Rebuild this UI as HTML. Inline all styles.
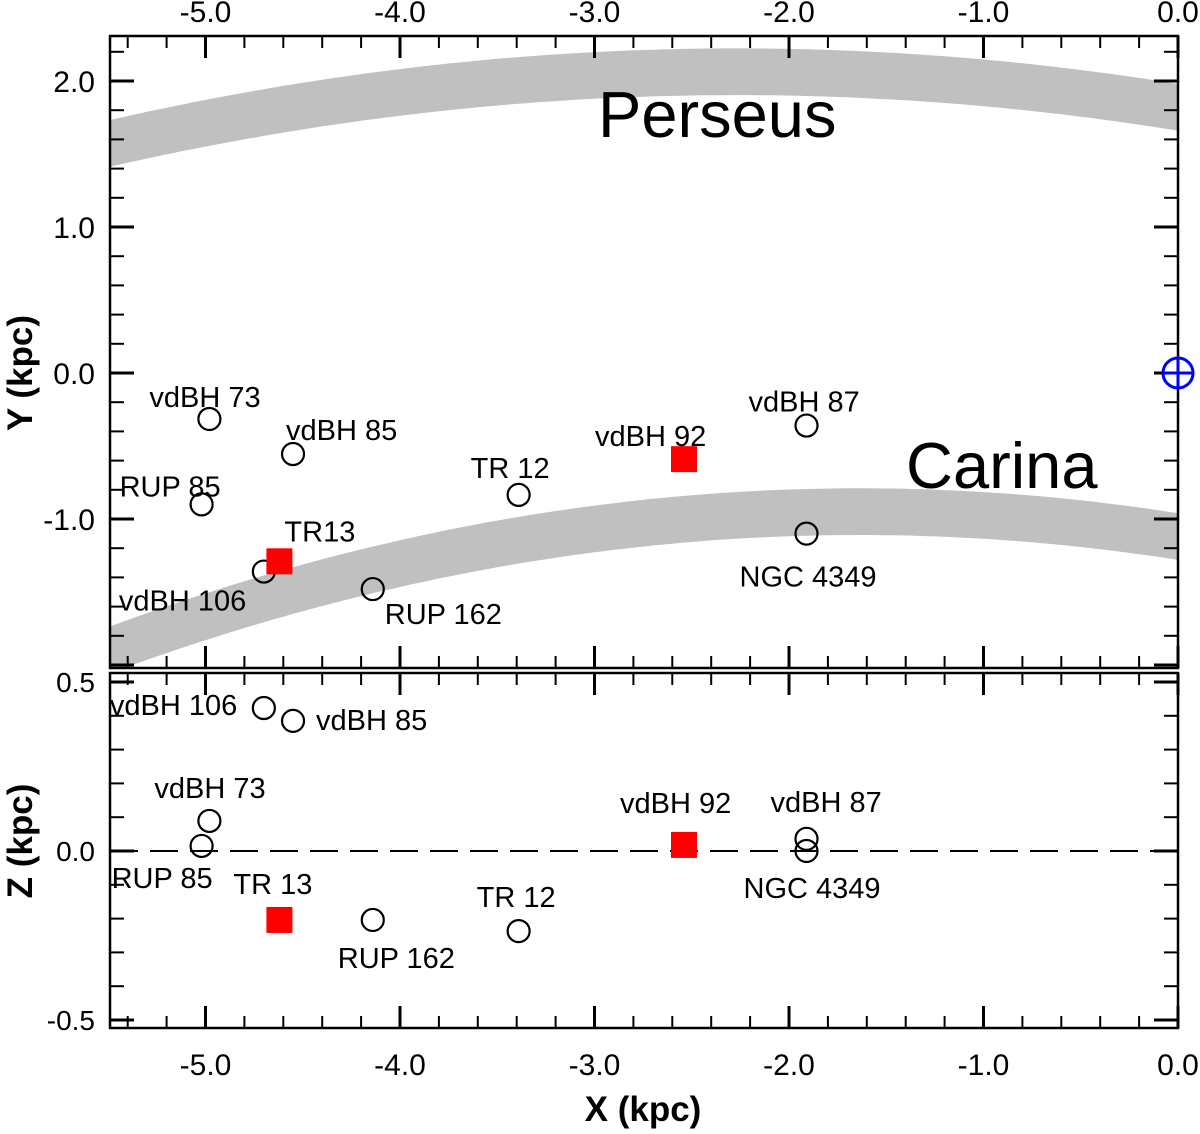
<!DOCTYPE html>
<html><head><meta charset="utf-8"><style>
html,body{margin:0;padding:0;background:#fff}
svg text{font-family:"Liberation Sans",Arial,sans-serif}
</style></head><body>
<svg width="1200" height="1129" viewBox="0 0 1200 1129" xmlns="http://www.w3.org/2000/svg">
<g id="bands"></g>
<g id="axes"></g>
<g id="marks"></g>
<text x="598" y="137" font-size="65">Perseus</text>
<text x="906" y="488" font-size="65">Carina</text>
<text x="643" y="1121" font-size="35" font-weight="bold" text-anchor="middle">X (kpc)</text>
<text transform="translate(32,373) rotate(-90)" font-size="35" font-weight="bold" text-anchor="middle">Y (kpc)</text>
<text transform="translate(32,841) rotate(-90)" font-size="35" font-weight="bold" text-anchor="middle">Z (kpc)</text>
</svg>
<script>
const names = ["vdBH 73","vdBH 85","RUP 85","vdBH 106","TR13","RUP 162","TR 12","vdBH 92","vdBH 87","NGC 4349"];
const xs = [-4.98,-4.55,-5.02,-4.70,-4.62,-4.14,-3.39,-2.54,-1.91,-1.91];
const ys = [-0.315,-0.555,-0.90,-1.36,-1.29,-1.48,-0.835,-0.59,-0.36,-1.10];
const zs = [0.089,0.385,0.015,0.423,-0.204,-0.204,-0.237,0.018,0.036,0.0];
const isRed = [0,0,0,0,1,0,0,1,0,0];
const xTicks = [-5.0,-4.0,-3.0,-2.0,-1.0,0.0];
const yTicks = [2.0,1.0,0.0,-1.0];
const zTicks = [0.5,0.0,-0.5];
const perseusPts = [[-5.5,1.57],[-2.8,2.05],[0,1.82]];
const carinaPts = [[-5.5,-1.90],[-1.7,-0.95],[0,-1.12]];
const armHalf = 0.16;

const NS="http://www.w3.org/2000/svg";
const L=110,R=1178,T1=36,B1=668,T2=673,B2=1028;
const sx=x=>1178+x*194.5;
const sy=y=>373-y*146;
const sz=z=>851-z*338;
function el(tag,attrs,parent,txt){const e=document.createElementNS(NS,tag);for(const k in attrs)e.setAttribute(k,attrs[k]);if(txt!==undefined)e.textContent=txt;parent.appendChild(e);return e;}
const axes=document.getElementById('axes'),marks=document.getElementById('marks'),bands=document.getElementById('bands');

function lag(p,x){let s=0;for(let i=0;i<3;i++){let t=p[i][1];for(let j=0;j<3;j++)if(j!==i)t*=(x-p[j][0])/(p[i][0]-p[j][0]);s+=t;}return s;}
[["perseus-arm",perseusPts],["carina-arm",carinaPts]].forEach(([nm,p])=>{
  let up=[],dn=[];
  for(let x=-5.5;x<=0.001;x+=0.05){const c=lag(p,x);up.push(sx(x).toFixed(1)+","+sy(c+armHalf).toFixed(1));dn.unshift(sx(x).toFixed(1)+","+sy(c-armHalf).toFixed(1));}
  const pg=el('polygon',{points:up.concat(dn).join(' '),fill:'#c0c0c0'},bands);
  
  
});
const cp=el('clipPath',{id:'c1'},bands);el('rect',{x:L,y:T1,width:R-L,height:B1-T1},cp);
bands.setAttribute('clip-path','url(#c1)');

[[T1,B1],[T2,B2]].forEach(([t,b],i)=>{
  const r=el('rect',{x:L,y:t,width:R-L,height:b-t,fill:'none',stroke:'#000','stroke-width':2.5},axes);
  
  
});
function line(x1,y1,x2,y2,w){el('line',{x1,y1,x2,y2,stroke:'#000','stroke-width':w||2},axes);}
for(let k=-27;k<=0;k++){const v=k/5,x=sx(v);if(x<L+1)continue;const maj=k%5===0;const len=maj?22:12;
  line(x,T1,x,T1+len,maj?3:2);line(x,B1,x,B1-len,maj?3:2);line(x,T2,x,T2+len,maj?3:2);line(x,B2,x,B2-len,maj?3:2);}
xTicks.forEach(v=>{
  const a=el('text',{x:sx(v),y:1075,'font-size':30,'text-anchor':'middle'},axes,v.toFixed(1));
  
  
  const b=el('text',{x:sx(v),y:22,'font-size':30,'text-anchor':'middle'},axes,v.toFixed(1));
  
  
});
for(let k=-10;k<=11;k++){const v=k/5,y=sy(v);if(y<T1+1||y>B1-1)continue;const maj=k%5===0;const len=maj?24:14;
  line(L,y,L+len,y,maj?3:2);line(R,y,R-len,y,maj?3:2);}
yTicks.forEach(v=>{const a=el('text',{x:95,y:sy(v)+11,'font-size':30,'text-anchor':'end'},axes,v.toFixed(1));
  });
for(let k=-5;k<=5;k++){const v=k/10,y=sz(v);if(y<T2+1||y>B2-1)continue;const maj=k%5===0;const len=maj?24:14;
  line(L,y,L+len,y,maj?3:2);line(R,y,R-len,y,maj?3:2);}
zTicks.forEach(v=>{const a=el('text',{x:95,y:sz(v)+10,'font-size':28,'text-anchor':'end'},axes,v.toFixed(1));
  });
const dl=el('line',{x1:L,y1:sz(0),x2:R,y2:sz(0),stroke:'#000','stroke-width':2,'stroke-dasharray':'28,12'},axes);



const topLab=[[-60,-12],[-7,-14],[-82,-8],[-145,39],[5,-20],[12,35],[-48,-17],[-89,-13],[-58,-14],[-67,53]];
const botLab=[[-55,-23],[23,9],[-90,42],[-154,7],[-46,-26],[-35,48],[-42,-24],[-64,-32],[-36,-27],[-63,47]];
function mark(cx,cy,red,nm){
  let m;
  if(red){m=el('rect',{x:cx-13,y:cy-13,width:26,height:26,fill:'#f00'},marks);}
  else{m=el('circle',{cx,cy,r:11,fill:'none',stroke:'#000','stroke-width':2.2},marks);}
  
  
}
names.forEach((n,i)=>{
  const cx=sx(xs[i]),cy=sy(ys[i]);
  mark(cx,cy,isRed[i],'cluster-xy-point');
  const t=el('text',{x:cx+topLab[i][0],y:cy+topLab[i][1],'font-size':29},marks,n);
  
  
  const cz=sz(zs[i]);
  mark(cx,cz,isRed[i],'cluster-xz-point');
  const t2=el('text',{x:cx+botLab[i][0],y:cz+botLab[i][1],'font-size':29},marks,n==="TR13"?"TR 13":n);
  
  
});
const sun=el('g',{},marks);


el('circle',{cx:sx(0),cy:sy(0),r:15,fill:'none',stroke:'#00f','stroke-width':3},sun);
el('line',{x1:sx(0)-15,y1:sy(0),x2:sx(0)+15,y2:sy(0),stroke:'#00f','stroke-width':3},sun);
el('line',{x1:sx(0),y1:sy(0)-15,x2:sx(0),y2:sy(0)+15,stroke:'#00f','stroke-width':3},sun);
</script>
</body></html>
